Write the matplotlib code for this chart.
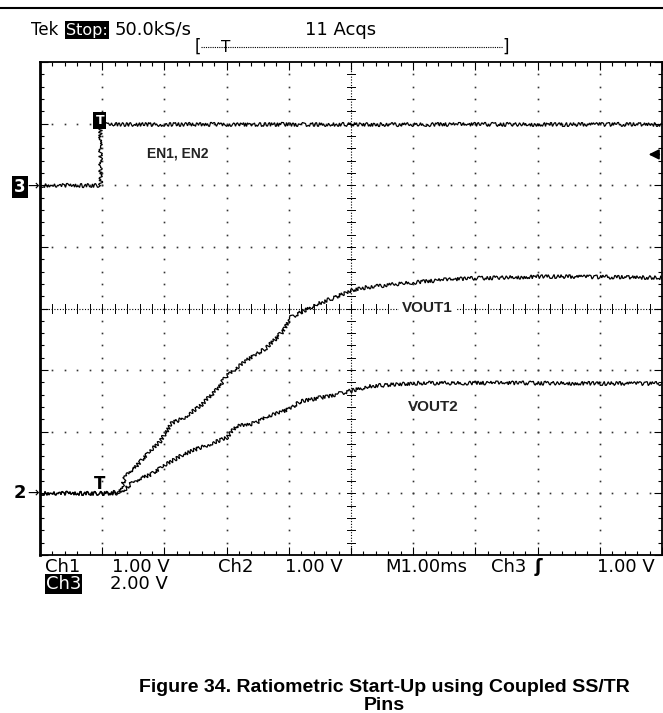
import matplotlib.pyplot as plt
import numpy as np

# time base (ms) and channel readings taken off the scope screen
t_en = [0.0, 0.96, 0.96, 10.0]
en = [0.0, 0.0, 2.0, 2.0]

t_vout1 = [0.0, 0.96, 1.29, 1.39, 1.50, 1.66, 1.77, 1.93, 2.12, 2.30, 2.57, 2.84,
           3.00, 3.16, 3.38, 3.64, 3.91, 4.02, 4.18, 4.45, 4.72, 4.98, 5.14, 5.84,
           6.59, 7.03, 8.20, 9.00, 10.0]
vout1 = [0.0, 0.0, 0.03, 0.33, 0.38, 0.57, 0.68, 0.84, 1.14, 1.22, 1.41, 1.68,
         1.90, 2.04, 2.20, 2.36, 2.63, 2.85, 2.93, 3.07, 3.17, 3.28, 3.33, 3.41,
         3.47, 3.49, 3.52, 3.51, 3.50]

t_vout2 = [0.0, 0.96, 1.29, 1.50, 1.77, 1.98, 2.30, 2.57, 3.00, 3.16, 3.48, 3.64,
           3.91, 4.07, 4.18, 4.61, 4.98, 5.31, 6.06, 7.40, 10.0]
vout2 = [0.0, 0.0, 0.0, 0.19, 0.30, 0.44, 0.63, 0.74, 0.90, 1.09, 1.14, 1.25,
         1.33, 1.41, 1.49, 1.57, 1.66, 1.74, 1.79, 1.79, 1.78]

# vertical settings: volts per division and ground position in divisions
ch12_scale, ch12_offset = 1.0, 1.0
ch3_scale, ch3_offset = 2.0, 6.0
trig_level = 1.0

W, H = 663, 713


def fx(x):
    return x / W


def fy(y):
    return 1 - y / H


fig = plt.figure(figsize=(W / 100, H / 100), dpi=100)
fig.patch.set_facecolor('white')
ax = fig.add_axes([fx(40), fy(555), fx(662) - fx(40), fy(62) - fy(555)])
ax.set_xlim(0, 10)
ax.set_ylim(0, 8)
for s in ax.spines.values():
    s.set_linewidth(1.3)
ax.spines['left'].set_linewidth(2.0)

# graticule
ax.set_xticks(np.arange(0, 11, 1))
ax.set_yticks(np.arange(0, 9, 1))
ax.set_xticks(np.arange(0, 10.01, 0.2), minor=True)
ax.set_yticks(np.arange(0, 8.01, 0.2), minor=True)
ax.tick_params(which='both', direction='in', top=True, right=True,
               labelbottom=False, labelleft=False, width=0.8)
ax.tick_params(which='major', length=6)
ax.tick_params(which='minor', length=3)

fine = np.arange(0.2, 10, 0.2)
for gx in range(1, 10):
    if gx == 5:
        continue
    ax.plot(np.full(39, gx), np.arange(0.2, 8, 0.2), ls='none', marker='s',
            ms=1.2, color='#333333', mec='none')
for gy in range(1, 8):
    if gy == 4:
        continue
    ax.plot(fine, np.full(len(fine), gy), ls='none', marker='s',
            ms=1.2, color='#333333', mec='none')

# centre cross with fine ticks
ax.axvline(5, color='black', lw=0.8, ls=(0, (1, 1.5)))
ax.axhline(4, color='black', lw=0.8, ls=(0, (1, 1.5)))
for v in np.arange(0.2, 8, 0.2):
    ax.plot([4.93, 5.07], [v, v], color='black', lw=0.7)
for v in fine:
    ax.plot([v, v], [3.93, 4.07], color='black', lw=0.7)

# traces
trace_kw = dict(color='black', lw=0.9, solid_joinstyle='miter')
l3, = ax.plot(t_en, ch3_offset + np.array(en) / ch3_scale, **trace_kw)
l1, = ax.plot(t_vout1, ch12_offset + np.array(vout1) / ch12_scale, **trace_kw)
l2, = ax.plot(t_vout2, ch12_offset + np.array(vout2) / ch12_scale, **trace_kw)
for ln in (l3, l1, l2):
    ln.set_sketch_params(scale=2.0, length=2.5, randomness=3)

# trace labels
lab_kw = dict(fontweight='bold', family='Liberation Sans', color='#222222')
ax.text(1.72, 6.52, 'EN1, EN2', ha='left', va='center', fontsize=10, **lab_kw)
ax.text(5.82, 4.0, 'VOUT1', ha='left', va='center', fontsize=11,
        bbox=dict(facecolor='white', edgecolor='none', pad=2), **lab_kw)
ax.text(5.92, 2.4, 'VOUT2', ha='left', va='center', fontsize=11, **lab_kw)

# trigger markers
ax.text(0.96, 7.05, 'T', ha='center', va='center', color='white', fontsize=9,
        fontweight='bold', bbox=dict(facecolor='black', edgecolor='none', pad=1.5))
ax.text(0.96, ch12_offset + 0.15, 'T', ha='center', va='center', color='black',
        fontsize=12, fontweight='bold')
ax.annotate('', xy=(9.74, ch3_offset + trig_level / ch3_scale),
            xytext=(10.0, ch3_offset + trig_level / ch3_scale),
            arrowprops=dict(arrowstyle='-|>', color='black', lw=1.3,
                            mutation_scale=15), annotation_clip=False)

# ground markers
fig.text(fx(20), fy(187), '3', ha='center', va='center', color='white',
         fontsize=12, fontweight='bold',
         bbox=dict(facecolor='black', edgecolor='none', pad=1.3))
fig.text(fx(33), fy(186), '→', ha='center', va='center', fontsize=10)
fig.text(fx(20), fy(493), '2', ha='center', va='center', fontsize=13,
         fontweight='bold')
fig.text(fx(33), fy(493), '→', ha='center', va='center', fontsize=10)

# header
scope_kw = dict(fontsize=13, family='DejaVu Sans', va='center', ha='left')
fig.text(fx(31), fy(30), 'Tek', **dict(scope_kw, fontsize=12))
fig.text(fx(66), fy(30), 'Stop:', color='white',
         bbox=dict(facecolor='black', edgecolor='none', pad=1.0),
         **dict(scope_kw, fontsize=11.5))
fig.text(fx(115), fy(30), '50.0kS/s', **scope_kw)
fig.text(fx(305), fy(30), '11 Acqs', **scope_kw)
fig.text(fx(198), fy(47), '[', fontsize=12, va='center', ha='center')
fig.text(fx(506), fy(47), ']', fontsize=12, va='center', ha='center')
fig.add_artist(plt.Line2D([fx(201), fx(503)], [fy(47), fy(47)],
                          color='black', lw=0.8, ls=(0, (1, 1))))
fig.text(fx(226), fy(48), 'T', fontsize=11, va='center', ha='center')
fig.add_artist(plt.Line2D([0, 1], [fy(8), fy(8)], color='black', lw=1.5))

# bottom readout
fig.text(fx(45), fy(567), 'Ch1', **scope_kw)
fig.text(fx(112), fy(567), '1.00 V', **scope_kw)
fig.text(fx(218), fy(567), 'Ch2', **scope_kw)
fig.text(fx(285), fy(567), '1.00 V', **scope_kw)
fig.text(fx(385), fy(567), 'M1.00ms', **scope_kw)
fig.text(fx(491), fy(567), 'Ch3', **scope_kw)
fig.text(fx(535), fy(567), 'ʃ', fontweight='bold', **scope_kw)
fig.text(fx(597), fy(567), '1.00 V', **scope_kw)
fig.text(fx(46), fy(584), 'Ch3', color='white',
         bbox=dict(facecolor='black', edgecolor='none', pad=0.8), **scope_kw)
fig.text(fx(110), fy(584), '2.00 V', **scope_kw)

# caption
cap_kw = dict(fontsize=14, fontweight='bold', family='Liberation Sans',
              ha='center', va='baseline')
fig.text(fx(384), fy(692), 'Figure 34. Ratiometric Start-Up using Coupled SS/TR', **cap_kw)
fig.text(fx(384), fy(710), 'Pins', **cap_kw)

fig.savefig('out.png', dpi=100)
